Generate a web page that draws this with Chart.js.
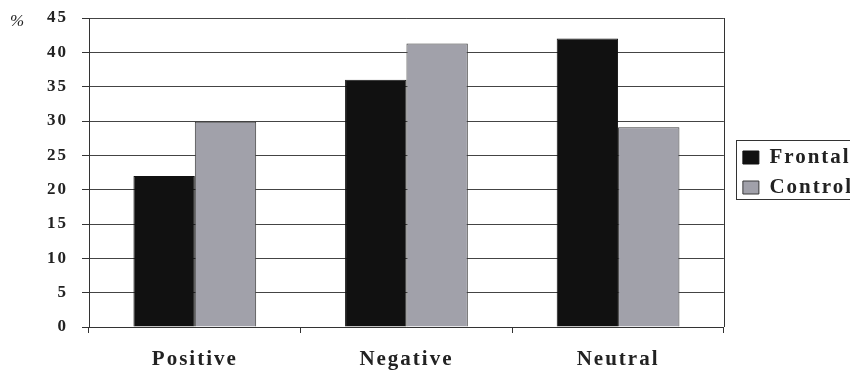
<!DOCTYPE html>
<html>
<head>
<meta charset="utf-8">
<script src="https://cdn.jsdelivr.net/npm/chart.js@4.4.1/dist/chart.umd.min.js"></script>
<style>
  body { margin: 0; background: #fff; }
  #wrap { width: 850px; height: 370px; }
</style>
</head>
<body>
<div id="wrap"><canvas id="barChart"></canvas></div>
<script>
const categories = ['Positive', 'Negative', 'Neutral'];
const frontal = [22, 36, 42];
const control = [29.9, 41.3, 29.1];
const yTicks = [0, 5, 10, 15, 20, 25, 30, 35, 40, 45];

const serif = '"Liberation Serif", "Times New Roman", serif';

// spaced-out lettering, right border, legend frame and the % sign
const extras = {
  id: 'extras',
  beforeUpdate(chart) { chart.ctx.letterSpacing = '2px'; },
  afterLayout(chart) {
    // nudge the legend a little off the plot edge
    chart.legend.left += 10;
    chart.legend.right += 10;
  },
  beforeDraw(chart) { chart.ctx.letterSpacing = '2px'; },
  afterDraw(chart) {
    const c = chart.ctx;
    const a = chart.chartArea;
    c.save();
    c.strokeStyle = '#333';
    c.lineWidth = 1;
    c.beginPath();
    c.moveTo(Math.round(a.right) + 0.5, a.top);
    c.lineTo(Math.round(a.right) + 0.5, a.bottom);
    c.stroke();

    const hb = chart.legend.legendHitBoxes;
    if (hb && hb.length) {
      const top = hb[0].top - 7;
      const bottom = hb[hb.length - 1].top + hb[hb.length - 1].height + 1;
      c.strokeRect(Math.round(hb[0].left - 7) + 0.5, Math.round(top) + 0.5, 200, Math.round(bottom - top));
    }

    c.letterSpacing = '0px';
    c.font = 'italic 17px ' + serif;
    c.fillStyle = '#222';
    c.textBaseline = 'middle';
    c.fillText('%', 10, a.top + 4);
    c.restore();
  }
};

const ctx = document.getElementById('barChart').getContext('2d');
const barChart = new Chart(ctx, {
  type: 'bar',
  data: {
    labels: categories,
    datasets: [
      {
        label: 'Frontal',
        data: frontal,
        backgroundColor: '#111111',
        borderColor: '#111111',
        borderWidth: 1,
        categoryPercentage: 0.58,
        barPercentage: 1
      },
      {
        label: 'Control',
        data: control,
        backgroundColor: '#a1a1aa',
        borderColor: '#3a3a3a',
        borderWidth: 1,
        categoryPercentage: 0.58,
        barPercentage: 1
      }
    ]
  },
  options: {
    responsive: true,
    maintainAspectRatio: false,
    animation: false,
    layout: { padding: { top: 0, right: -3, left: 0, bottom: 0 } },
    scales: {
      x: {
        grid: {
          drawOnChartArea: false,
          drawTicks: true,
          tickLength: 6,
          tickColor: '#333'
        },
        border: { color: '#333', width: 1 },
        ticks: {
          color: '#222',
          padding: 14,
          font: { family: serif, size: 21, weight: 'bold' }
        },
        afterFit(scale) { scale.height = 43; }
      },
      y: {
        min: 0,
        max: 45,
        grid: {
          color: '#444',
          tickLength: 7,
          tickColor: '#333'
        },
        border: { color: '#333', width: 1 },
        ticks: {
          color: '#222',
          padding: 14,
          font: { family: serif, size: 17, weight: 'bold' }
        },
        afterBuildTicks(scale) { scale.ticks = yTicks.map(v => ({ value: v })); },
        afterFit(scale) {
          scale.width = 89;
          scale.paddingTop = 18;
        }
      }
    },
    plugins: {
      legend: {
        position: 'right',
        fullSize: false,
        labels: {
          color: '#222',
          boxWidth: 16,
          boxHeight: 13,
          padding: 9,
          font: { family: serif, size: 21, weight: 'bold' }
        }
      },
      tooltip: { enabled: false }
    }
  },
  plugins: [extras]
});
</script>
</body>
</html>
